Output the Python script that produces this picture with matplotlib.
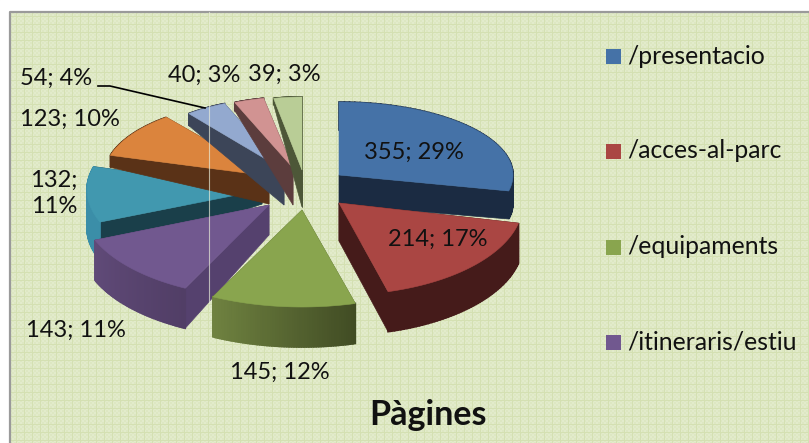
import matplotlib as mpl
mpl.use('Agg')
import matplotlib.pyplot as plt
from matplotlib.patches import Polygon, Rectangle
import numpy as np

plt.rcParams['font.family'] = ['Lato', 'DejaVu Sans']

# data
values = [355, 214, 145, 143, 132, 123, 54, 40, 39]
legend_names = ['/presentacio', '/acces-al-parc', '/equipaments', '/itineraris/estiu']
title = 'Pàgines'

# look of each slice, same order as values
top_col = ['#4572a7', '#aa4643', '#89a54e', '#71588f', '#4198af', '#db843d', '#93a9cf', '#d19392', '#b9cd96']
face_col = ['#1b2b42', '#451b1a', '#5a6a35', '#55416e', '#1a3f4a', '#5a3217', '#3c4558', '#5c3d3d', '#4d5738']
rim_start = ['#1b2b42', '#451b1a', '#414c24', '#513e66', '#3b8ea8', '#5a3217', '#3c4558', '#5c3d3d', '#4d5738']
rim_end = ['#1b2b42', '#451b1a', '#6f8240', '#604a78', '#3b8ea8', '#5a3217', '#3c4558', '#5c3d3d', '#4d5738']

# 3d layout, in pixels
center = (300, 187)
offset_x = [39, 39, 2, -31, -38, -31, -16, -7, 2]
offset_y = [-12, 16, 23, 18, 3, -11, -17, -19, -17]
radius_x = [174, 184, 200, 188, 175, 165, 153, 150, 145]
radius_y = [73, 92, 97, 93, 85, 75, 72, 71, 73]
depth_apex = [30, 38, 40, 30, 14, 28, 35, 37, 37]
depth_rim = [28, 40, 40, 40, 38, 12, 12, 8, 6]
draw_order = [4, 5, 6, 7, 8, 0, 3, 1, 2]

label_pos = [(414, 152), (438, 239), (280, 372), (76, 330), (54, 193), (70, 119), (56, 78), (204, 75), (284, 74)]
legend_y = [56, 151, 247, 342]


def background(ax):
    h, w = 443, 809
    yy, xx = np.mgrid[0:h, 0:w]
    check = ((xx // 2 + yy // 2) % 2)[..., None]
    img = (np.array([226, 235, 203]) * check + np.array([221, 231, 194]) * (1 - check)) / 255.
    line = np.array([212, 224, 178]) / 255.
    img[:, xx[0] % 8 == 0] = line
    img[yy[:, 0] % 8 == 0, :] = line
    ax.imshow(img, extent=(0, w, h, 0), interpolation='nearest', zorder=0, aspect='auto')
    ax.add_patch(Rectangle((0, 0), w, 11, color='white', zorder=1))
    ax.add_patch(Rectangle((0, 0), 9.5, h, color='white', zorder=1))
    ax.plot([10, 10, w], [h, 12, 12], color='#9a9a9a', lw=1.6, zorder=2)


def draw_slice(ax, i, start, stop):
    ax_x = center[0] + offset_x[i]
    ax_y = center[1] + offset_y[i]
    theta = np.radians(np.linspace(start, stop, 60))
    arc_x = ax_x + radius_x[i] * np.sin(theta)
    arc_y = ax_y - radius_y[i] * np.cos(theta)
    face = face_col[i]
    # radial faces
    for ex, ey in [(arc_x[0], arc_y[0]), (arc_x[-1], arc_y[-1])]:
        ax.add_patch(Polygon([(ax_x, ax_y), (ex, ey), (ex, ey + depth_rim[i]), (ax_x, ax_y + depth_apex[i])],
                             fc=face, ec=face, lw=0.5, zorder=3))
    # outer rim with a slow gradient
    c0 = np.array(mpl.colors.to_rgb(rim_start[i]))
    c1 = np.array(mpl.colors.to_rgb(rim_end[i]))
    for k in range(len(theta) - 1):
        col = c0 + (c1 - c0) * k / (len(theta) - 2.)
        ax.add_patch(Polygon([(arc_x[k], arc_y[k]), (arc_x[k + 1], arc_y[k + 1]),
                              (arc_x[k + 1], arc_y[k + 1] + depth_rim[i]), (arc_x[k], arc_y[k] + depth_rim[i])],
                             fc=col, ec=col, lw=1.2, zorder=3))
    pts = [(ax_x, ax_y)] + list(zip(arc_x, arc_y))
    ax.add_patch(Polygon(pts, fc=top_col[i], ec=top_col[i], lw=0.4, zorder=3))


fig = plt.figure(figsize=(8.09, 4.43), dpi=100)
ax = fig.add_axes([0, 0, 1, 1])
background(ax)

total = float(sum(values))
edges = np.cumsum([0] + values) / total * 360.
for i in draw_order:
    draw_slice(ax, i, edges[i], edges[i + 1])

# thin light line left over in the original picture
ax.plot([209, 209], [12, 303], color='#e8ecd8', lw=0.8, alpha=0.7, zorder=4)

for i, v in enumerate(values):
    pct = int(round(v / total * 100))
    if i == 4:
        txt = '%d;\n%d%%' % (v, pct)
    else:
        txt = '%d; %d%%' % (v, pct)
    ax.text(label_pos[i][0], label_pos[i][1], txt, fontsize=17, ha='center', va='center',
            color='#111111', linespacing=1.3, zorder=5)

# leader line of the 54 label
ax.plot([98, 110, 205], [86, 86, 108], color='black', lw=1.2, zorder=5)

for i, name in enumerate(legend_names):
    ax.add_patch(Rectangle((606, legend_y[i] - 7.5), 15, 15, color=top_col[i], lw=0, zorder=5))
    ax.text(627, legend_y[i], name, fontsize=17.8, ha='left', va='center', color='#111111', zorder=5)

ax.text(428, 415, title, fontsize=24.5, fontweight='bold', ha='center', va='center', color='#111111', zorder=5)

ax.set_xlim(0, 809)
ax.set_ylim(443, 0)
ax.axis('off')
fig.savefig('out.png', dpi=100)
